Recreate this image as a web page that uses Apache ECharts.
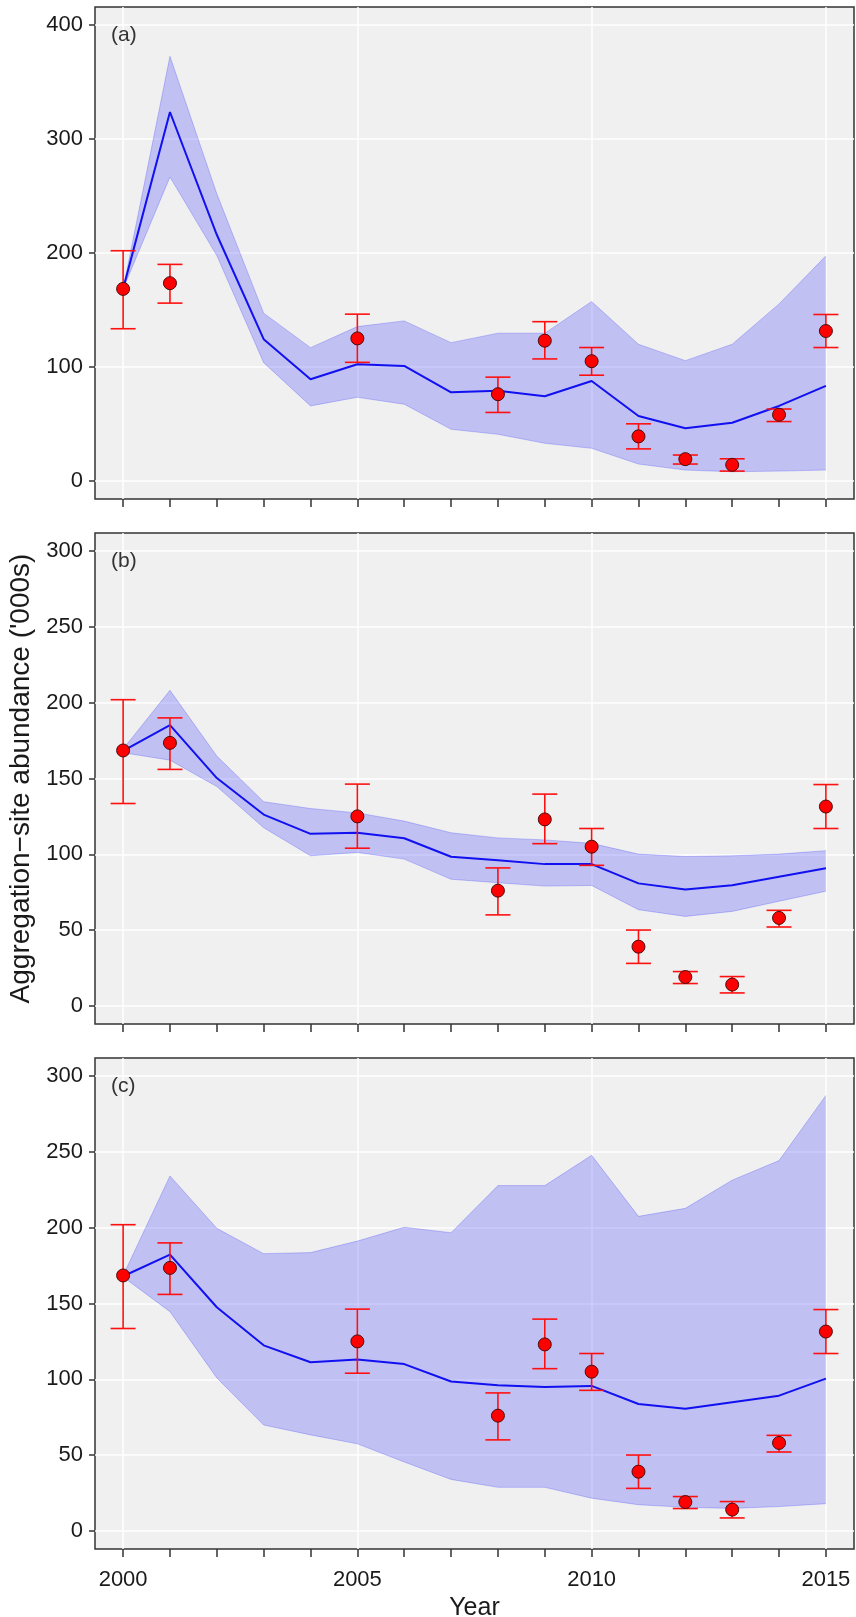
<!DOCTYPE html>
<html>
<head>
<meta charset="utf-8">
<script src="https://cdn.jsdelivr.net/npm/echarts@6/dist/echarts.min.js"></script>
<style>
  html, body { margin: 0; padding: 0; background: #fff; }
  #chart { width: 856px; height: 1617px; }
</style>
</head>
<body>
<div id="chart"></div>
<script>
// years of model output
const years = [2000, 2001, 2002, 2003, 2004, 2005, 2006, 2007, 2008, 2009, 2010, 2011, 2012, 2013, 2014, 2015];
const labelYears = [2000, 2005, 2010, 2015];
const ticksA = [0, 100, 200, 300, 400];
const ticksBC = [0, 50, 100, 150, 200, 250, 300];

// survey estimates with error bars (same in all panels)
const obsYears = [2000, 2001, 2005, 2008, 2009, 2010, 2011, 2012, 2013, 2014, 2015];
const obsMean = [168.5, 173.5, 125, 76, 123, 105, 39, 19, 14, 58, 131.5];
const obsLow = [133.5, 156, 104, 60, 107, 92.7, 28, 14.7, 8.5, 52, 117];
const obsHigh = [202, 190, 146.3, 91, 139.7, 117, 50, 22.6, 19.3, 63, 146];

// panel (a)
const lineA = [168.5, 323.8, 216, 124.3, 89.1, 102.3, 100.8, 77.7, 79.1, 74.2, 87.6, 56.9, 46.1, 51.0, 65.7, 83.3];
const upperA = [168.5, 372.7, 252, 147.2, 116.9, 135.4, 140.4, 121.3, 129.6, 129.6, 157.4, 119.9, 105.5, 119.9, 155.3, 197.5];
const lowerA = [168.5, 266.7, 197.7, 103.7, 65.7, 73.3, 67.2, 45.2, 40.8, 32.9, 28.5, 14.7, 9.4, 7.9, 8.5, 9.4];

// panel (b)
const lineB = [168.3, 185.2, 150.3, 126.2, 113.5, 114.2, 110.6, 98.4, 96.1, 93.5, 93.5, 80.8, 76.7, 79.6, 85.2, 90.8];
const upperB = [169.5, 208.2, 164.8, 134.7, 130.2, 127.3, 121.9, 114.2, 110.8, 109.5, 107.2, 100.1, 98.5, 99.0, 100.1, 102.4];
const lowerB = [167, 162.1, 144.7, 117.5, 99.0, 101.2, 96.8, 83.5, 81.2, 79.0, 79.4, 63.4, 59.0, 62.3, 69.0, 75.6];

// panel (c)
const lineC = [168.0, 182.3, 147.5, 122.4, 111.2, 113.0, 110.0, 98.5, 96.1, 94.9, 95.6, 83.7, 80.6, 84.9, 89.2, 100.4];
const upperC = [168.5, 234.2, 199.6, 182.9, 183.6, 191.2, 200.3, 196.7, 227.8, 227.8, 247.8, 207.5, 212.8, 231.4, 244.3, 287.3];
const lowerC = [167.5, 144.6, 100.9, 69.8, 63.3, 57.4, 45.4, 33.9, 28.7, 28.7, 21.5, 17.2, 15.5, 14.8, 16.0, 17.9];

const FONT = '"Liberation Sans", Arial, sans-serif';
const bandColor = 'rgba(0,0,255,0.2)';
const bandEdge = 'rgba(0,0,255,0.2)';

const panels = [
  {tag: '(a)', line: lineA, upper: upperA, lower: lowerA, ticks: ticksA, min: -16, max: 416, top: 7, height: 492},
  {tag: '(b)', line: lineB, upper: upperB, lower: lowerB, ticks: ticksBC, min: -12, max: 312, top: 533, height: 491},
  {tag: '(c)', line: lineC, upper: upperC, lower: lowerC, ticks: ticksBC, min: -12, max: 312, top: 1058, height: 491}
];

const grids = [], xAxes = [], yAxes = [], series = [], titles = [];

panels.forEach((p, i) => {
  grids.push({
    left: 95, top: p.top, width: 759, height: p.height,
    show: true, backgroundColor: '#F0F0F0', borderColor: '#333', borderWidth: 1.5,
    outerBoundsMode: 'none'
  });

  // axis with ticks / labels
  xAxes.push({
    gridIndex: i, type: 'value', min: 1999.4, max: 2015.6, position: 'bottom',
    axisLine: {show: false, onZero: false},
    axisTick: {show: true, length: 8, lineStyle: {color: '#333', width: 1.5}, customValues: years},
    axisLabel: {
      show: i === 2, customValues: labelYears, margin: 20,
      fontSize: 22, fontFamily: FONT, color: '#1a1a1a',
      formatter: v => String(v)
    },
    splitLine: {show: false},
    name: i === 2 ? 'Year' : '',
    nameLocation: 'middle', nameGap: 47,
    nameTextStyle: {fontSize: 25, fontFamily: FONT, color: '#1a1a1a'}
  });
  // axis used only for the vertical white grid lines
  xAxes.push({
    gridIndex: i, type: 'value', min: 1999.4, max: 2015.6, position: 'bottom',
    axisLine: {show: false, onZero: false},
    axisTick: {show: false, customValues: labelYears},
    axisLabel: {show: false},
    splitLine: {show: true, lineStyle: {color: '#fff', width: 1.5}}
  });

  yAxes.push({
    gridIndex: i, type: 'value', min: p.min, max: p.max,
    axisLine: {show: false, onZero: false},
    axisTick: {show: true, length: 6, lineStyle: {color: '#333', width: 1.5}, customValues: p.ticks},
    axisLabel: {customValues: p.ticks, margin: 12, fontSize: 22, fontFamily: FONT, color: '#1a1a1a'},
    splitLine: {show: true, lineStyle: {color: '#fff', width: 1.5}},
    name: i === 1 ? "Aggregation\u2212site abundance ('000s)" : '',
    nameLocation: 'middle', nameRotate: 90, nameGap: 57,
    nameTextStyle: {fontSize: 28, fontFamily: FONT, color: '#1a1a1a'}
  });

  const xi = i * 2;
  // confidence band drawn as one polygon from the upper and lower arrays
  series.push({
    type: 'custom', xAxisIndex: xi, yAxisIndex: i, silent: true, z: 1,
    data: [[years[0], p.lower[0]]],
    renderItem: (params, api) => {
      const up = years.map((y, k) => api.coord([y, p.upper[k]]));
      const lo = years.map((y, k) => api.coord([y, p.lower[k]]));
      return {
        type: 'group',
        children: [
          {type: 'polygon', shape: {points: up.concat(lo.slice().reverse())}, style: {fill: bandColor}},
          {type: 'polyline', shape: {points: up}, style: {stroke: bandEdge, lineWidth: 1, fill: null}},
          {type: 'polyline', shape: {points: lo}, style: {stroke: bandEdge, lineWidth: 1, fill: null}}
        ]
      };
    }
  });
  // model trajectory
  series.push({
    type: 'line', xAxisIndex: xi, yAxisIndex: i, silent: true,
    symbol: 'none', lineStyle: {color: '#1010F0', width: 2}, z: 2,
    data: years.map((y, k) => [y, p.line[k]])
  });
  // error bars
  series.push({
    type: 'custom', xAxisIndex: xi, yAxisIndex: i, silent: true, z: 3,
    data: obsYears.map((y, k) => [y, obsLow[k], obsHigh[k]]),
    renderItem: (params, api) => {
      const lo = api.coord([api.value(0), api.value(1)]);
      const hi = api.coord([api.value(0), api.value(2)]);
      const w = 12.5;
      const st = {stroke: '#FF1010', lineWidth: 1.6};
      return {
        type: 'group',
        children: [
          {type: 'line', shape: {x1: lo[0], y1: lo[1], x2: hi[0], y2: hi[1]}, style: st},
          {type: 'line', shape: {x1: lo[0] - w, y1: lo[1], x2: lo[0] + w, y2: lo[1]}, style: st},
          {type: 'line', shape: {x1: hi[0] - w, y1: hi[1], x2: hi[0] + w, y2: hi[1]}, style: st}
        ]
      };
    },
    encode: {x: 0, y: [1, 2]}
  });
  // survey points
  series.push({
    type: 'scatter', xAxisIndex: xi, yAxisIndex: i, silent: true, z: 4,
    symbolSize: 13,
    itemStyle: {color: '#FF0000', borderColor: '#4a0c0c', borderWidth: 1, opacity: 1},
    data: obsYears.map((y, k) => [y, obsMean[k]])
  });

  // panel tag
  titles.push({
    text: p.tag, left: 111, top: p.top + 18, padding: 0,
    textStyle: {fontSize: 21, fontFamily: FONT, fontWeight: 'normal', color: '#333'}
  });
});

const chart = echarts.init(document.getElementById('chart'), null, {renderer: 'canvas'});
chart.setOption({
  animation: false,
  backgroundColor: '#fff',
  title: titles,
  grid: grids,
  xAxis: xAxes,
  yAxis: yAxes,
  series: series
});
</script>
</body>
</html>
